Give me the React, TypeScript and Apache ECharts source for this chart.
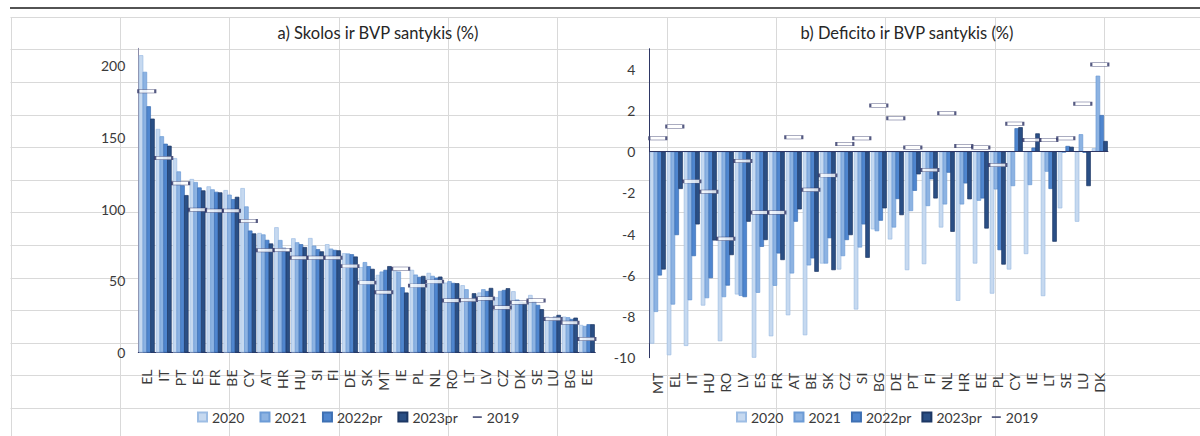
import React, { useEffect, useRef } from "react";
import * as echarts from "echarts";

// ---------- Data: a) debt-to-GDP (%) ----------
const debtCountries = ["EL", "IT", "PT", "ES", "FR", "BE", "CY", "AT", "HR", "HU", "SI", "FI", "DE", "SK", "MT", "IE", "PL", "NL", "RO", "LT", "LV", "CZ", "DK", "SE", "LU", "BG", "EE"];
const debt2020 = [207.2, 155.8, 135.5, 120.9, 115.8, 113.2, 114.6, 83.3, 87.3, 79.6, 79.8, 75.5, 69.2, 59.5, 54.1, 57.1, 57.6, 55.5, 48.7, 46.9, 41.8, 38.5, 42.7, 40.1, 25.0, 25.0, 19.2];
const debt2021 = [195.6, 150.7, 126.2, 118.8, 113.7, 110.0, 101.8, 82.3, 78.4, 76.8, 74.5, 72.4, 69.0, 63.0, 56.4, 56.4, 54.3, 53.4, 49.7, 44.1, 44.1, 42.9, 36.9, 36.0, 24.3, 24.6, 18.5];
const debt2022pr = [171.6, 145.5, 116.5, 115.0, 112.0, 106.9, 85.0, 78.5, 73.0, 75.5, 72.0, 71.5, 68.5, 60.2, 57.6, 45.5, 52.7, 52.2, 48.5, 37.1, 42.9, 43.6, 35.5, 33.2, 25.0, 23.4, 19.7];
const debt2023pr = [163.0, 144.1, 109.7, 113.0, 111.6, 108.5, 83.0, 76.0, 70.5, 73.5, 70.5, 71.2, 66.9, 58.3, 60.2, 41.8, 53.4, 52.9, 48.3, 41.3, 45.0, 44.8, 34.8, 30.2, 26.2, 24.3, 19.7];
const debt2019 = [182.0, 135.5, 118.0, 99.5, 98.8, 98.8, 91.6, 71.2, 71.5, 66.0, 66.0, 66.0, 60.2, 48.7, 42.0, 58.3, 46.6, 49.4, 36.2, 36.6, 37.6, 31.3, 34.8, 36.2, 23.4, 20.8, 9.4];
const debtTicks = [0, 50, 100, 150, 200];

// ---------- Data: b) deficit-to-GDP (%) ----------
const defCountries = ["MT", "EL", "IT", "HU", "RO", "LV", "ES", "FR", "AT", "BE", "SK", "CZ", "SI", "BG", "DE", "PT", "FI", "NL", "HR", "EE", "PL", "CY", "IE", "LT", "SE", "LU", "DK"];
const def2020 = [-9.32, -9.88, -9.43, -7.47, -9.2, -6.93, -10.0, -8.96, -7.94, -8.91, -5.43, -5.72, -7.66, -3.77, -4.26, -5.75, -5.46, -3.68, -7.24, -5.43, -6.89, -5.72, -4.97, -7.01, -2.75, -3.4, 0.17];
const def2021 = [-7.78, -7.42, -7.21, -7.11, -7.06, -7.0, -6.85, -6.51, -5.91, -5.52, -5.43, -5.07, -4.65, -3.86, -3.68, -2.88, -2.64, -2.56, -2.56, -2.38, -1.83, -1.67, -1.62, -0.97, -0.05, 0.85, 3.69];
const def2022pr = [-6.01, -4.05, -5.07, -6.14, -6.5, -7.06, -4.62, -4.94, -3.4, -5.18, -4.2, -4.29, -3.53, -3.35, -2.3, -1.9, -1.34, -1.02, -1.54, -2.27, -4.78, 1.14, 0.2, -1.81, 0.28, -0.05, 1.78];
const def2023pr = [-5.72, -1.81, -3.53, -4.31, -5.02, -3.4, -4.29, -5.26, -2.8, -5.83, -5.75, -4.05, -5.15, -2.75, -3.08, -1.1, -2.27, -3.89, -2.31, -3.73, -5.48, 1.19, 0.89, -4.37, 0.24, -1.67, 0.52];
const def2019 = [0.65, 1.22, -1.44, -1.94, -4.23, -0.45, -2.95, -2.95, 0.7, -1.85, -1.15, 0.37, 0.65, 2.24, 1.62, 0.2, -0.89, 1.87, 0.28, 0.2, -0.65, 1.36, 0.57, 0.57, 0.65, 2.33, 4.23];
const defTicks = [-10, -8, -6, -4, -2, 0, 2, 4];

const barNames = ["2020", "2021", "2022pr", "2023pr"];
const markerName = "2019";
const titles = ["a) Skolos ir BVP santykis (%)", "b) Deficito ir BVP santykis (%)"];

// ---------- Styles ----------
const FONT = "Lato, 'Open Sans', sans-serif";
const TXT = "#3a3a3a";
const AXIS_DARK = "#2e3765";
const barStyles = [
  { color: "#c6d9f0", borderColor: "#9dbde4" },
  { color: "#8db3e2", borderColor: "#6c9bd6" },
  { color: "#4f86cf", borderColor: "#3e70b3" },
  { color: "#2a4f85", borderColor: "#1c3764" },
];

export default function App() {
  const ref = useRef<HTMLDivElement>(null);

  useEffect(() => {
    const chart = echarts.init(ref.current!, null, { renderer: "svg" });

    const graphics: any[] = [];
    // spreadsheet cell grid behind the charts
    for (let k = 0; k <= 12; k++) {
      const y = Math.round(16.7 + 32.6 * k) + 0.5;
      graphics.push({ type: "line", silent: true, shape: { x1: 10.5, y1: y, x2: 1200, y2: y }, style: { stroke: "#d9d9d9", lineWidth: 1 } });
    }
    for (let k = 0; k <= 10; k++) {
      const x = Math.round(10.5 + 109.35 * k) + 0.5;
      graphics.push({ type: "line", silent: true, shape: { x1: x, y1: 17, x2: x, y2: 436 }, style: { stroke: "#d9d9d9", lineWidth: 1 } });
    }
    graphics.push({ type: "line", silent: true, shape: { x1: 10, y1: 8, x2: 1200, y2: 8 }, style: { stroke: "#1a1a1a", lineWidth: 1.5 } });
    graphics.push({ type: "text", silent: true, x: 378, y: 33, style: { text: titles[0], align: "center", verticalAlign: "middle", fontSize: 16.5, fontFamily: FONT, fill: "#262626" } });
    graphics.push({ type: "text", silent: true, x: 907, y: 33, style: { text: titles[1], align: "center", verticalAlign: "middle", fontSize: 16.5, fontFamily: FONT, fill: "#262626" } });

    const legendData = [
      ...barNames.map((n) => ({ name: n, icon: "rect" })),
      { name: markerName, icon: "path://M0,0M9,9M0,3.7L9,3.7L9,5.5L0,5.5Z", itemStyle: { color: AXIS_DARK, borderWidth: 0 } },
    ];
    const legendBase = {
      top: 405,
      itemWidth: 9,
      itemHeight: 9,
      selectedMode: false,
      textStyle: { fontSize: 14, color: TXT, fontFamily: FONT },
      data: legendData,
    };

    const xLabel = { rotate: 90, interval: 0, fontSize: 14, color: TXT, fontFamily: FONT };

    const makeBars = (gi: number, sets: number[][]) =>
      sets.map((d, i) => ({
        type: "bar",
        name: barNames[i],
        xAxisIndex: gi,
        yAxisIndex: gi,
        data: d,
        barGap: "-15%",
        barCategoryGap: "6%",
        itemStyle: { ...barStyles[i], borderWidth: 0.7 },
      }));

    const makeMarker = (gi: number, d: number[], extra: any = {}) => ({
      type: "scatter",
      name: markerName,
      xAxisIndex: gi,
      yAxisIndex: gi,
      data: d,
      symbol: "rect",
      symbolSize: [17, 3.5],
      itemStyle: { color: "#ffffff", borderColor: "#2b3163", borderWidth: 1 },
      z: 5,
      ...extra,
    });

    chart.setOption({
      animation: false,
      backgroundColor: "#ffffff",
      graphic: { elements: graphics },
      legend: [
        { ...legendBase, left: 192, itemGap: 15 },
        { ...legendBase, left: 731, itemGap: 10 },
      ],
      grid: [
        { left: 138.3, top: 48.3, width: 457, height: 304.2 },
        { left: 649.3, top: 48.7, width: 459, height: 309 },
      ],
      xAxis: [
        {
          type: "category",
          gridIndex: 0,
          data: debtCountries,
          axisLine: { show: true, lineStyle: { color: AXIS_DARK, width: 1 } },
          axisTick: { show: false },
          axisLabel: { ...xLabel, margin: 17 },
        },
        {
          type: "category",
          gridIndex: 1,
          data: defCountries,
          axisLine: { show: false, onZero: false },
          axisTick: { show: false },
          axisLabel: { ...xLabel, margin: 15 },
        },
      ],
      yAxis: [
        {
          type: "value",
          gridIndex: 0,
          min: 0,
          max: 212,
          interval: 50,
          axisLine: { show: true, lineStyle: { color: "#8c8ca8", width: 1 } },
          axisTick: { show: false },
          splitLine: { show: false },
          axisLabel: {
            margin: 13,
            fontSize: 14,
            color: TXT,
            fontFamily: FONT,
            showMaxLabel: false,
            formatter: (v: number) => (debtTicks.includes(v) ? String(v) : ""),
          },
        },
        {
          type: "value",
          gridIndex: 1,
          min: -10,
          max: 5,
          interval: 2,
          axisLine: { show: true, onZero: false, lineStyle: { color: AXIS_DARK, width: 1 } },
          axisTick: { show: false },
          splitLine: { show: false },
          axisLabel: {
            margin: 14,
            fontSize: 14,
            color: TXT,
            fontFamily: FONT,
            showMaxLabel: false,
            formatter: (v: number) => (defTicks.includes(v) ? String(v) : ""),
          },
        },
      ],
      series: [
        ...makeBars(0, [debt2020, debt2021, debt2022pr, debt2023pr]),
        makeMarker(0, debt2019),
        ...makeBars(1, [def2020, def2021, def2022pr, def2023pr]),
        makeMarker(1, def2019, {
          markLine: {
            silent: true,
            symbol: ["none", "none"],
            label: { show: false },
            lineStyle: { color: AXIS_DARK, width: 1, type: "solid" },
            data: [{ yAxis: 0 }],
          },
        }),
      ],
    });

    return () => chart.dispose();
  }, []);

  return <div ref={ref} style={{ position: "fixed", left: 0, top: 0, width: 1200, height: 436 }} />;
}
